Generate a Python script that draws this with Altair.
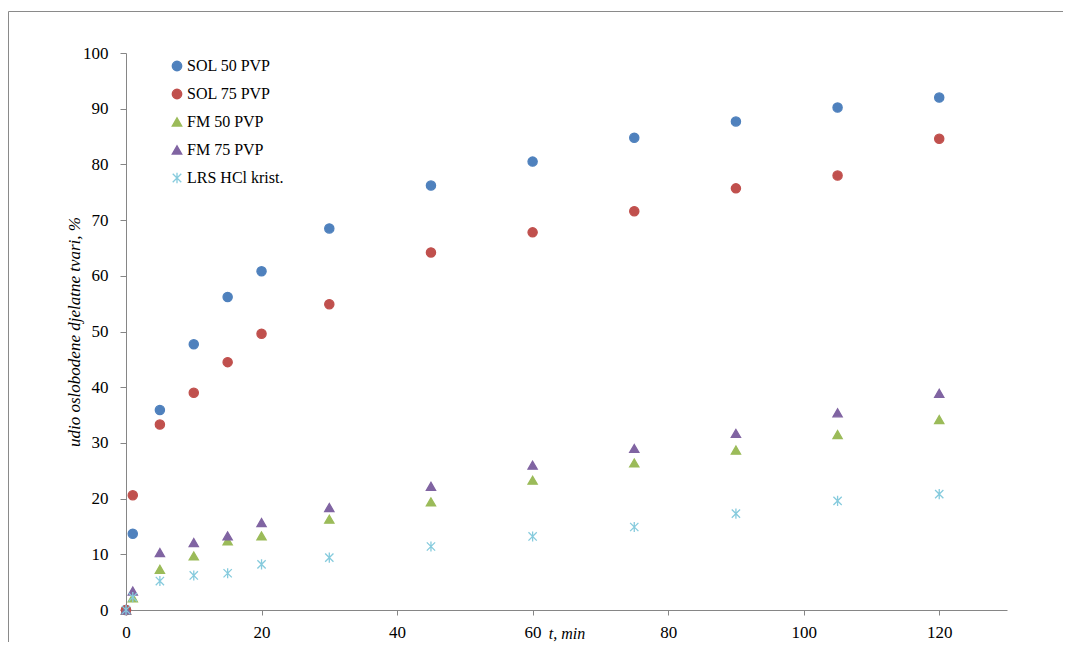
import altair as alt
import pandas as pd

# ---- data ----
times = [0, 1, 5, 10, 15, 20, 30, 45, 60, 75, 90, 105, 120]
series_names = ["SOL 50 PVP", "SOL 75 PVP", "FM 50 PVP", "FM 75 PVP", "LRS HCl krist."]
sol50 = [0, 13.7, 35.9, 47.7, 56.2, 60.8, 68.5, 76.2, 80.5, 84.8, 87.7, 90.2, 92.0]
sol75 = [0, 20.6, 33.3, 39.0, 44.5, 49.6, 54.9, 64.2, 67.8, 71.6, 75.7, 78.0, 84.6]
fm50 = [0, 2.2, 7.3, 9.7, 12.4, 13.3, 16.3, 19.4, 23.3, 26.4, 28.7, 31.5, 34.2]
fm75 = [0, 3.4, 10.3, 12.1, 13.3, 15.7, 18.4, 22.2, 26.0, 29.0, 31.7, 35.4, 38.9]
lrs = [0, 2.3, 5.2, 6.2, 6.6, 8.2, 9.4, 11.4, 13.2, 14.9, 17.3, 19.6, 20.8]
x_ticks = [0, 20, 40, 60, 80, 100, 120]
y_ticks = [0, 10, 20, 30, 40, 50, 60, 70, 80, 90, 100]

colors = ["#4F81BD", "#C0504D", "#9BBB59", "#8064A2", "#86CBDD"]
asterisk = "M0,-1.1L0,1.1M-0.9,-0.9L0.9,0.9M-0.9,0.9L0.9,-0.9"
shapes = ["circle", "circle", "triangle-up", "triangle-up", asterisk]

rows = []
for name, vals in zip(series_names, [sol50, sol75, fm50, fm75, lrs]):
    for t, v in zip(times, vals):
        rows.append({"t": t, "v": v, "series": name})
df = pd.DataFrame(rows)

W, H = 881, 557
serif = "Liberation Serif"

color_scale = alt.Scale(domain=series_names, range=colors)
legend = alt.Legend(
    title=None, orient="none", legendX=43, legendY=5, padding=0,
    labelFont=serif, labelFontSize=16, labelColor="#000000",
    rowPadding=12, symbolSize=90, symbolStrokeWidth=1.3, labelOffset=2,
)

points = alt.Chart(df).mark_point(filled=True, size=85, strokeWidth=1.3, opacity=1).encode(
    x=alt.X("t:Q", scale=alt.Scale(domain=[0, 130], nice=False),
            axis=alt.Axis(values=x_ticks, title="t, min", grid=False,
                          domainColor="#868686", tickColor="#868686", tickSize=5,
                          labelFont=serif, labelFontSize=17, labelColor="#000000",
                          labelPadding=9, labelFlush=False,
                          titleFont=serif, titleFontSize=16, titleFontStyle="italic",
                          titleFontWeight="normal", titleColor="#000000",
                          titleBaseline="alphabetic", titleY=28)),
    y=alt.Y("v:Q", scale=alt.Scale(domain=[0, 100], nice=False),
            axis=alt.Axis(values=y_ticks, title="udio oslobodene djelatne tvari, %", grid=False,
                          domainColor="#868686", tickColor="#868686", tickSize=6,
                          labelFont=serif, labelFontSize=17, labelColor="#000000",
                          labelPadding=12, labelFlush=False,
                          titleFont=serif, titleFontSize=17, titleFontStyle="italic",
                          titleFontWeight="normal", titleColor="#000000",
                          titleAngle=270, titleAlign="center", titleBaseline="middle",
                          titleX=-52, titleY=H / 2)),
    fill=alt.Fill("series:N", scale=color_scale, legend=legend),
    stroke=alt.Stroke("series:N", scale=color_scale, legend=legend),
    shape=alt.Shape("series:N", scale=alt.Scale(domain=series_names, range=shapes), legend=legend),
    order=alt.Order("idx:Q"),
).transform_calculate(
    idx="indexof(" + str(series_names) + ", datum.series)"
)

frame_src = pd.DataFrame({"a": [0]})
frame_top = alt.Chart(frame_src).mark_rule(stroke="#8a8a8a", strokeWidth=1).encode(
    x=alt.value(-117.5), x2=alt.value(W + 56), y=alt.value(-41.5)
)
frame_left = alt.Chart(frame_src).mark_rule(stroke="#8a8a8a", strokeWidth=1).encode(
    x=alt.value(-117.5), y=alt.value(-41.5), y2=alt.value(H + 32)
)

chart = alt.layer(frame_top, frame_left, points).properties(
    width=W, height=H,
    autosize=alt.AutoSizeParams(type="none"),
    padding={"left": 118, "top": 45, "right": 56, "bottom": 32},
).configure_view(stroke=None)

chart.save("out.html", embed_options={"renderer": "svg", "actions": False})
